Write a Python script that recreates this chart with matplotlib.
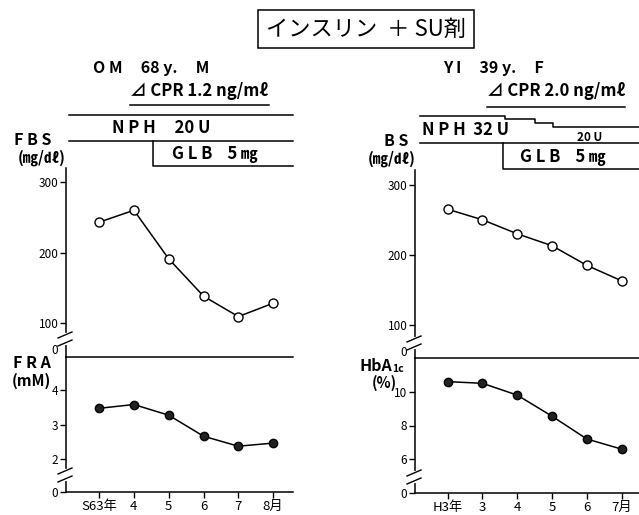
import matplotlib
matplotlib.use("Agg")
import matplotlib.pyplot as plt
from matplotlib.lines import Line2D
from matplotlib.transforms import blended_transform_factory

plt.rcParams['font.family'] = ['Noto Sans CJK JP', 'DejaVu Sans']

W, H = 639, 515

# data
months_left = ["S63年", "4", "5", "6", "7", "8月"]
fbs = [243, 260, 191, 138, 109, 128]
fra = [3.47, 3.58, 3.27, 2.66, 2.37, 2.46]

months_right = ["H3年", "3", "4", "5", "6", "7月"]
bs = [265, 250, 230, 213, 185, 163]
hba1c = [10.6, 10.5, 9.8, 8.55, 7.2, 6.6]

# treatment start positions (in month index units)
nph_start_left = -0.85
glb_start_left = 1.55
nph_start_right = -0.8
nph_steps_right = [1.65, 2.52, 3.04]   # dose reduced from 32U to 20U
glb_start_right = 1.59

fig = plt.figure(figsize=(W / 100, H / 100), dpi=100)


def fy(py):
    return 1 - py / H


def add_ax(x0, x1, ytop, ybot):
    return fig.add_axes([x0 / W, 1 - ybot / H, (x1 - x0) / W, (ybot - ytop) / H])


def style(ax):
    for s in ["right", "top", "bottom"]:
        ax.spines[s].set_visible(False)
    ax.spines["left"].set_linewidth(1.1)
    ax.tick_params(axis="y", direction="out", length=4, width=1, labelsize=8.5, pad=1.5)
    ax.patch.set_alpha(0)


def break_mark(px, py):
    # gap in the axis plus two slashes
    fig.add_artist(Line2D([px / W, px / W], [fy(py - 4), fy(py + 4)],
                          transform=fig.transFigure, color="white", lw=3, zorder=5))
    for off in (-4, 4):
        fig.add_artist(Line2D([(px - 8) / W, (px + 6) / W],
                              [fy(py + off + 3), fy(py + off - 3)],
                              transform=fig.transFigure, color="black", lw=1.0, zorder=6))


def panel(x0, x1, ytop, yline, ybot, xlim, ylim_up, ylim_lo,
          months, up_vals, lo_vals, lo_ticks, zero_up_py, brk_up, brk_lo):
    x = list(range(len(months)))
    ax1 = add_ax(x0, x1, ytop, yline)
    ax2 = add_ax(x0, x1, yline, ybot)
    for ax in (ax1, ax2):
        style(ax)
        ax.set_xlim(*xlim)
    ax1.set_ylim(*ylim_up)
    ax1.set_xticks([])
    ax1.set_yticks([100, 200, 300])
    ax1.plot(x, up_vals, color="black", lw=1.1, marker="o", ms=6.5,
             mfc="white", mec="black", mew=1.0, clip_on=False)
    fig.text((x0 - 8) / W, fy(zero_up_py), "0", ha="right", va="center", fontsize=8.5)

    ax2.set_ylim(*ylim_lo)
    ax2.spines["top"].set_visible(True)
    ax2.spines["bottom"].set_visible(True)
    ax2.spines["top"].set_linewidth(1.1)
    ax2.spines["bottom"].set_linewidth(1.1)
    ax2.set_yticks([ylim_lo[0]] + lo_ticks)
    ax2.set_yticklabels(["0"] + [str(t) for t in lo_ticks])
    ax2.set_xticks(x)
    ax2.set_xticklabels(months)
    ax2.tick_params(axis="x", direction="out", length=4, width=1, labelsize=9.5, pad=2)
    ax2.plot(x, lo_vals, color="black", lw=1.1, marker="o", ms=6,
             mfc="#222222", mec="black", clip_on=False)

    break_mark(x0, brk_up)
    break_mark(x0, brk_lo)
    return ax1, ax2


axL1, axL2 = panel(66, 293, 168, 357, 492, (-0.95, 5.57), (51.6, 320), (1.04, 4.96),
                   months_left, fbs, fra, [2, 3, 4], 350, 339, 475)
axR1, axR2 = panel(415, 639, 170, 358, 493, (-0.94, 5.5), (52.9, 321), (4.0, 12.0),
                   months_right, bs, hba1c, [6, 8, 10], 353, 343, 477)

# title
fig.text(366 / W, fy(29), "インスリン  ＋ SU剤", ha="center", va="center", fontsize=16,
         bbox=dict(boxstyle="square,pad=0.35", fc="white", ec="black", lw=1.1))

bold = "bold"

# left header
fig.text(93 / W, fy(68), "O M     68 y.     M", ha="left", va="center", fontsize=11.5, weight=bold)
fig.text(130 / W, fy(91), "⊿ CPR 1.2 ng/mℓ", ha="left", va="center", fontsize=12, weight=bold)
fig.add_artist(Line2D([130 / W, 269 / W], [fy(105), fy(105)], transform=fig.transFigure,
                      color="black", lw=1.1))

tL = blended_transform_factory(axL1.transData, fig.transFigure)
xend_L = 5.57
axL1.add_line(Line2D([nph_start_left, xend_L], [fy(115), fy(115)], transform=tL,
                     color="black", lw=1.1, clip_on=False))
axL1.add_line(Line2D([nph_start_left, xend_L], [fy(141), fy(141)], transform=tL,
                     color="black", lw=1.1, clip_on=False))
axL1.add_line(Line2D([glb_start_left, glb_start_left, xend_L], [fy(141), fy(166), fy(166)],
                     transform=tL, color="black", lw=1.1, clip_on=False))
fig.text(112 / W, fy(128), "N P H     20 U", ha="left", va="center", fontsize=12, weight=bold)
fig.text(172 / W, fy(154), "G L B    5 ㎎", ha="left", va="center", fontsize=12, weight=bold)
fig.text(33 / W, fy(140), "F B S", ha="center", va="center", fontsize=11.5, weight=bold)
fig.text(42 / W, fy(158), "(㎎/㎗)", ha="center", va="center", fontsize=11, weight=bold)
fig.text(32 / W, fy(363), "F R A", ha="center", va="center", fontsize=11.5, weight=bold)
fig.text(31 / W, fy(381), "(mM)", ha="center", va="center", fontsize=11, weight=bold)

# right header
fig.text(443 / W, fy(68), "Y I     39 y.     F", ha="left", va="center", fontsize=11.5, weight=bold)
fig.text(487 / W, fy(91), "⊿ CPR 2.0 ng/mℓ", ha="left", va="center", fontsize=12, weight=bold)
fig.add_artist(Line2D([487 / W, 625 / W], [fy(107), fy(107)], transform=fig.transFigure,
                      color="black", lw=1.1))

tR = blended_transform_factory(axR1.transData, fig.transFigure)
xend_R = 5.5
step_y = [116, 119, 123, 127]
xs = [nph_start_right]
ys = [fy(step_y[0])]
for sx, py_prev, py in zip(nph_steps_right, step_y[:-1], step_y[1:]):
    xs += [sx, sx]
    ys += [fy(py_prev), fy(py)]
xs.append(xend_R)
ys.append(fy(step_y[-1]))
axR1.add_line(Line2D(xs, ys, transform=tR, color="black", lw=1.1, clip_on=False))
axR1.add_line(Line2D([nph_start_right, xend_R], [fy(143), fy(143)], transform=tR,
                     color="black", lw=1.1, clip_on=False))
axR1.add_line(Line2D([glb_start_right, glb_start_right, xend_R], [fy(143), fy(169), fy(169)],
                     transform=tR, color="black", lw=1.1, clip_on=False))
fig.text(422 / W, fy(130), "N P H  32 U", ha="left", va="center", fontsize=12, weight=bold)
fig.text(590 / W, fy(137), "20 U", ha="center", va="center", fontsize=8.5, weight=bold)
fig.text(520 / W, fy(157), "G L B    5 ㎎", ha="left", va="center", fontsize=12, weight=bold)
fig.text(396 / W, fy(141), "B S", ha="center", va="center", fontsize=11.5, weight=bold)
fig.text(392 / W, fy(159), "(㎎/㎗)", ha="center", va="center", fontsize=11, weight=bold)
fig.text(392 / W, fy(366), "HbA", ha="right", va="center", fontsize=11.5, weight=bold)
fig.text(392 / W, fy(369), "1c", ha="left", va="center", fontsize=7.5, weight=bold)
fig.text(384 / W, fy(383), "(%)", ha="center", va="center", fontsize=10.5, weight=bold)

fig.savefig("out.png", dpi=100)
